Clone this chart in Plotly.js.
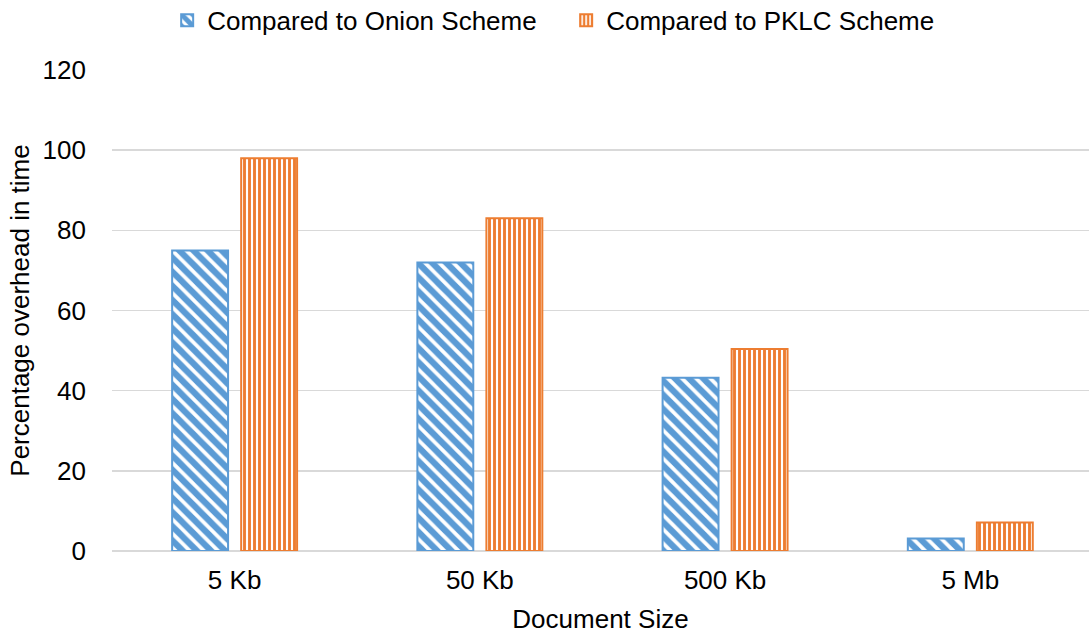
<!DOCTYPE html>
<html>
<head>
<meta charset="utf-8">
<script src="https://cdn.plot.ly/plotly-3.0.1.min.js"></script>
<style>html,body{margin:0;padding:0;background:#fff;overflow:hidden;}#chart{width:1089px;height:635px;}</style>
</head>
<body>
<div id="chart"></div>
<script>
const categories = ["5 Kb", "50 Kb", "500 Kb", "5 Mb"];
const onionValues = [75, 72, 43.2, 3.1];
const pklcValues = [98, 83, 50.4, 7.1];
const seriesNames = ["Compared to Onion Scheme", "Compared to PKLC Scheme"];
const yTicks = [0, 20, 40, 60, 80, 100, 120];

const FONT = "Liberation Sans, Arial, sans-serif";
const FS = 26;
const blue = "#5B9BD5";
const orange = "#ED7D31";

const traces = [
  {
    type: "bar", name: seriesNames[0], x: categories, y: onionValues,
    marker: {
      color: "#ffffff",
      line: {color: blue, width: 2},
      pattern: {shape: "\\", fgcolor: blue, fgopacity: 1, bgcolor: "#ffffff", fillmode: "overlay", size: 10, solidity: 0.62}
    },
    hoverinfo: "y"
  },
  {
    type: "bar", name: seriesNames[1], x: categories, y: pklcValues,
    marker: {
      color: "#ffffff",
      line: {color: orange, width: 2},
      pattern: {shape: "|", fgcolor: orange, fgopacity: 1, bgcolor: "#ffffff", fillmode: "overlay", size: 5, solidity: 0.58}
    },
    hoverinfo: "y"
  }
];

const layout = {
  width: 1089, height: 635,
  margin: {l: 112, r: 0, t: 70, b: 84},
  paper_bgcolor: "#ffffff", plot_bgcolor: "#ffffff",
  font: {family: FONT, size: FS, color: "#000000"},
  barmode: "group", bargap: 0.437, bargroupgap: 0.19,
  showlegend: true,
  legend: {
    orientation: "h", xref: "container", yref: "container",
    x: 0.1535, xanchor: "left", y: 0.968, yanchor: "middle",
    font: {family: FONT, size: FS, color: "#000000"},
    entrywidth: 354, entrywidthmode: "pixels",
    itemwidth: 30, traceorder: "normal"
  },
  xaxis: {
    type: "category", range: [-0.5, 3.484], showgrid: false, zeroline: false,
    showline: false, ticks: "", ticklabelstandoff: 11,
    tickfont: {family: FONT, size: FS, color: "#000000"},
    title: {text: "Document Size", font: {family: FONT, size: FS, color: "#000000"}, standoff: 15}
  },
  yaxis: {
    range: [0, 120], tickvals: yTicks, ticktext: yTicks.map(String),
    showgrid: true, gridcolor: "#d9d9d9", gridwidth: 1.5,
    zeroline: true, zerolinecolor: "#d9d9d9", zerolinewidth: 1.5,
    showline: false, ticks: "", ticklabelstandoff: 25,
    tickfont: {family: FONT, size: FS, color: "#000000"},
    title: {text: "Percentage overhead in time", font: {family: FONT, size: FS, color: "#000000"}, standoff: 5}
  }
};

Plotly.newPlot("chart", traces, layout, {displayModeBar: false, staticPlot: true});
</script>
</body>
</html>
